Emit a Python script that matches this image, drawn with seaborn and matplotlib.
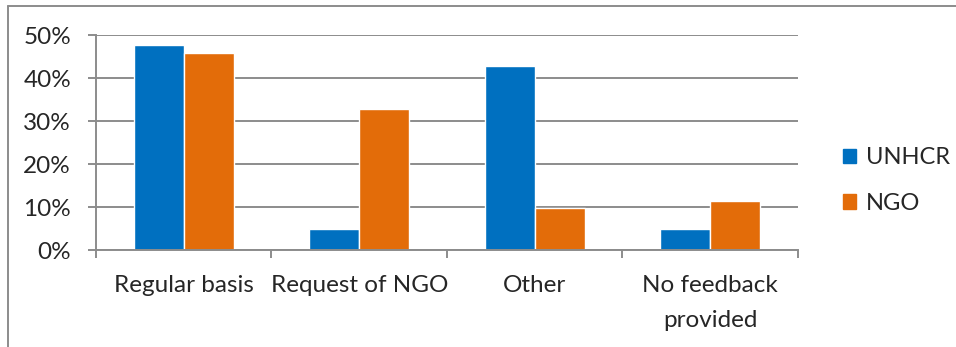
import matplotlib
matplotlib.use('Agg')
import matplotlib.pyplot as plt
import matplotlib.lines as mlines
import matplotlib.ticker as mticker
import pandas as pd
import seaborn as sns

categories = ['Regular basis', 'Request of NGO', 'Other', 'No feedback\nprovided']
unhcr = [47.6, 4.8, 42.9, 4.8]
ngo = [45.9, 32.8, 9.8, 11.5]

df = pd.DataFrame({
    'category': categories * 2,
    'value': unhcr + ngo,
    'group': ['UNHCR'] * 4 + ['NGO'] * 4,
})

sns.set_style('white')
plt.rcParams['font.family'] = ['Lato', 'DejaVu Sans']

fig = plt.figure(figsize=(9.56, 3.47), dpi=100)
ax = fig.add_axes([0.1004, 0.2795, 0.7343, 0.6196])

sns.barplot(data=df, x='category', y='value', hue='group', ax=ax,
            palette={'UNHCR': '#0070C0', 'NGO': '#E36C09'},
            width=0.57, gap=0, saturation=1, legend=False)

ax.set_ylim(0, 50)
ax.set_xlim(-0.5, 3.5)
ax.yaxis.set_major_locator(mticker.MultipleLocator(10))
ax.yaxis.set_major_formatter(mticker.FuncFormatter(lambda v, p: f'{v:.0f}%'))
ax.grid(axis='y', color='#8c8c8c', linewidth=1.4)
ax.set_axisbelow(True)
ax.set_xlabel('')
ax.set_ylabel('')

for s in ['top', 'right']:
    ax.spines[s].set_visible(False)
for s in ['left', 'bottom']:
    ax.spines[s].set_color('#8c8c8c')
    ax.spines[s].set_linewidth(1.4)

ax.tick_params(axis='y', length=6, width=1.4, color='#8c8c8c', pad=12,
               labelsize=17.5, left=True)
ax.tick_params(axis='x', which='major', length=0, pad=18, labelsize=17.5)
ax.set_xticks([-0.5, 0.5, 1.5, 2.5, 3.5], minor=True)
ax.tick_params(axis='x', which='minor', length=6, width=1.4, color='#8c8c8c', bottom=True)
for lbl in ax.get_xticklabels():
    lbl.set_verticalalignment('top')
    lbl.set_linespacing(1.8)

handles = [plt.Rectangle((0, 0), 1, 1, color='#0070C0'),
           plt.Rectangle((0, 0), 1, 1, color='#E36C09')]
fig.legend(handles, ['UNHCR', 'NGO'], loc='center left',
           bbox_to_anchor=(0.86, 0.48), frameon=False, fontsize=17,
           handlelength=0.55, handleheight=0.55, handletextpad=0.4,
           labelspacing=1.05)

# outer frame of the figure box
fig.add_artist(mlines.Line2D([8 / 956, 8 / 956], [0, 1 - 6 / 347],
                             color='#8c8c8c', linewidth=1.4))
fig.add_artist(mlines.Line2D([8 / 956, 1], [1 - 6 / 347, 1 - 6 / 347],
                             color='#8c8c8c', linewidth=1.4))

fig.savefig('out.png', dpi=100)
